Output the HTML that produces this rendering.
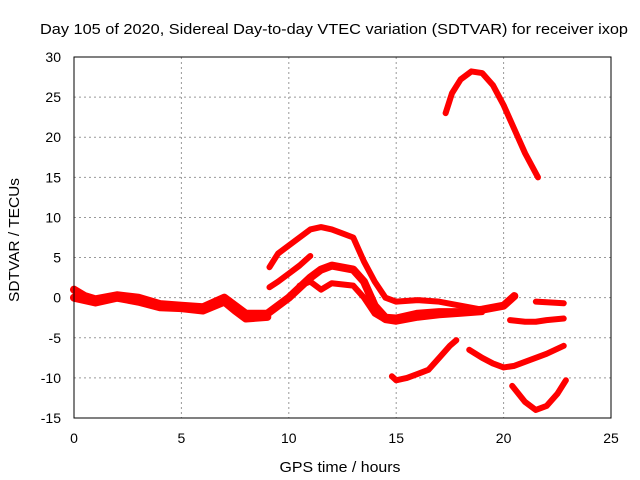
<!DOCTYPE html>
<html><head><meta charset="utf-8"><style>
body{margin:0;background:#fff}
svg{display:block;font-family:"Liberation Sans",sans-serif}
</style></head><body>
<svg id="c" width="640" height="480" viewBox="0 0 640 480">
<text x="334" y="34" font-size="15" text-anchor="middle" textLength="588" lengthAdjust="spacingAndGlyphs">Day 105 of 2020, Sidereal Day-to-day VTEC variation (SDTVAR) for receiver ixop</text>
<text x="340" y="472" font-size="15" text-anchor="middle" textLength="121" lengthAdjust="spacingAndGlyphs">GPS time / hours</text>
<text transform="translate(19,240) rotate(-90)" font-size="15" text-anchor="middle" textLength="124" lengthAdjust="spacingAndGlyphs">SDTVAR / TECUs</text>
<g id="grid"></g><g id="ticks"></g><g id="marks"></g>
<rect x="74" y="57" width="537" height="361" fill="none" stroke="#000" stroke-width="1"/>
</svg>
<script>
const xTicks=[0,5,10,15,20,25];
const yTicks=[-15,-10,-5,0,5,10,15,20,25,30];
const trackBase=[[0,1],[0.5,0.2],[1,-0.2],[2,0.3],[3,0],[4,-0.8],[5,-1],[6,-1.2],[7,0],[7.5,-1],[8,-2],[9,-2],[10,0],[11,2.5],[11.5,3.5],[12,4],[13,3.5],[13.5,2],[14,-1],[14.5,-2.5],[15,-2.6],[16,-2],[17,-1.8],[18,-1.8],[19,-1.5],[20,-1],[20.5,0.2]];
const trackLow=[[0,0],[1,-0.6],[2,0],[3,-0.5],[4,-1.2],[5,-1.3],[6,-1.6],[7,-0.5],[7.5,-1.6],[8,-2.6],[9,-2.4]];
const trackMid=[[10.5,1.5],[11,2],[11.5,1],[12,1.8],[13,1.5],[13.5,0],[14,-2],[14.5,-2.8],[15,-3],[16,-2.5],[17,-2.2],[18,-2],[19,-1.8]];
const trackHigh=[[9.1,3.8],[9.5,5.5],[10,6.5],[10.5,7.5],[11,8.5],[11.5,8.8],[12,8.5],[12.5,8],[13,7.5],[13.5,4.5],[14,2],[14.5,0],[15,-0.5],[16,-0.3],[17,-0.5],[18,-1],[19,-1.5]];
const trackRise=[[9.1,1.3],[9.5,2],[10,3],[10.5,4],[11,5.2]];
const trackTop=[[17.3,23],[17.6,25.5],[18,27.2],[18.5,28.2],[19,28],[19.5,26.5],[20,24],[20.5,21],[21,18],[21.6,15]];
const trackNeg1=[[14.8,-9.8],[15,-10.3],[15.5,-10],[16,-9.5],[16.5,-9],[17,-7.5],[17.5,-6],[17.8,-5.3]];
const trackNeg2=[[18.4,-6.5],[19,-7.5],[19.5,-8.2],[20,-8.7],[20.5,-8.5],[21,-8],[22,-7],[22.8,-6]];
const trackNeg3=[[20.4,-11],[21,-13],[21.5,-14],[22,-13.5],[22.5,-12],[22.9,-10.3]];
const trackLate1=[[20.3,-2.8],[21,-3],[21.5,-3],[22,-2.8],[22.8,-2.6]];
const trackLate2=[[21.5,-0.5],[22.8,-0.7]];
const tracks=[trackBase,trackLow,trackMid,trackHigh,trackRise,trackTop,trackNeg1,trackNeg2,trackNeg3,trackLate1,trackLate2];
const X=v=>74+v*537/25, Y=v=>418-(v+15)*361/45;
const NS="http://www.w3.org/2000/svg";
const g=document.getElementById('grid'),t=document.getElementById('ticks'),m=document.getElementById('marks');
function mk(p,tag,a){const e=document.createElementNS(NS,tag);for(const k in a)e.setAttribute(k,a[k]);p.appendChild(e);return e;}
xTicks.forEach(v=>{
 if(v>0&&v<25){const l=mk(g,'line',{x1:X(v),x2:X(v),y1:57,y2:418,stroke:'#999','stroke-dasharray':'2,3'});
 
 }
 const s=mk(t,'text',{x:X(v),y:443,'font-size':14,'text-anchor':'middle'});s.textContent=v;
 
 
});
yTicks.forEach(v=>{
 if(v>-15&&v<30){const l=mk(g,'line',{x1:74,x2:611,y1:Y(v),y2:Y(v),stroke:'#999','stroke-dasharray':'2,3'});
 
 }
 const s=mk(t,'text',{x:61,y:Y(v)+5,'font-size':14,'text-anchor':'end'});s.textContent=v;
 
 
});
tracks.forEach((tr,i)=>{
 const p=mk(m,'polyline',{points:tr.map(d=>X(d[0])+','+Y(d[1])).join(' '),fill:'none',stroke:'#f00','stroke-width':(i<2?8:6),'stroke-linejoin':'round','stroke-linecap':'round'});
 
 
});
</script>
</body></html>
